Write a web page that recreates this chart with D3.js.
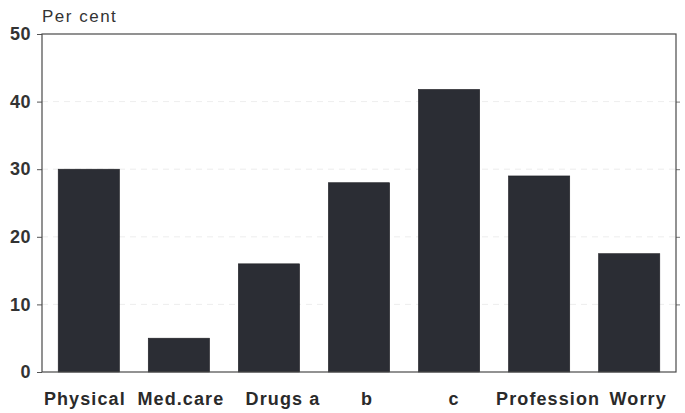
<!DOCTYPE html>
<html lang="en">
<head>
<meta charset="UTF-8">
<title>Per cent bar chart</title>
<style>
  body { margin: 0; background: #fff; }
  svg { display: block; }
  .tick-label { font-family: 'Liberation Sans', Arial, sans-serif; font-weight: bold; font-size: 18px; fill: #333; letter-spacing: 0.5px; }
  .cat-label { font-family: 'Liberation Sans', Arial, sans-serif; font-weight: bold; font-size: 18px; fill: #2a2a2a; letter-spacing: 1.1px; }
  .unit { font-family: 'Liberation Sans', Arial, sans-serif; font-size: 17px; fill: #333; letter-spacing: 1.5px; }
</style>
</head>
<body>
<svg id="chart" width="685" height="413"></svg>
<script src="https://d3js.org/d3.v7.min.js"></script>
<script>
// data
const categories = ["Physical", "Med.care", "Drugs a", "b", "c", "Profession", "Worry"];
const values = [30, 5, 16, 28, 41.8, 29, 17.5];
const yTicks = [0, 10, 20, 30, 40, 50];
// small nudges so labels sit where the original printed them
const labelShift = [-4, 2, 14, 8, 5, 9, 9];

const svg = d3.select("#chart");
const plotLeft = 42, plotRight = 676, plotTop = 34, plotBottom = 372;

const x = d3.scaleBand()
  .domain(categories)
  .range([plotLeft, plotRight])
  .paddingInner(0.32)
  .paddingOuter(0.18);

const y = d3.scaleLinear()
  .domain([0, 50])
  .range([plotBottom, plotTop]);

// faint gridlines
svg.append("g")
  .selectAll("line")
  .data(yTicks.filter(d => d > 0 && d < 50))
  .enter()
  .append("line")
  .attr("x1", plotLeft).attr("x2", plotRight)
  .attr("y1", d => y(d)).attr("y2", d => y(d))
  .attr("stroke", "#e8e8e8")
  .attr("stroke-dasharray", "6,5")
  .attr("stroke-width", 0.8);

// bars
svg.append("g")
  .selectAll("rect")
  .data(values)
  .enter()
  .append("rect")
  .attr("x", (d, i) => x(categories[i]))
  .attr("y", d => y(d))
  .attr("width", x.bandwidth())
  .attr("height", d => y(0) - y(d))
  .attr("fill", "#2b2d34")
  .attr("stroke", "#1e1f24")
  .attr("stroke-width", 0.6);

// left axis
const yAxis = svg.append("g")
  .attr("transform", `translate(${plotLeft},0)`)
  .call(d3.axisLeft(y).tickValues(yTicks).tickSize(5).tickPadding(6));
yAxis.select(".domain").remove();
yAxis.selectAll("line").attr("stroke", "#555");
yAxis.selectAll("text").attr("class", "tick-label").attr("fill", null).attr("font-size", null).attr("font-family", null);

// right side ticks
const yAxisR = svg.append("g")
  .attr("transform", `translate(${plotRight},0)`)
  .call(d3.axisRight(y).tickValues(yTicks.filter(d => d > 0 && d < 50)).tickSize(4).tickFormat(""));
yAxisR.select(".domain").remove();
yAxisR.selectAll("line").attr("stroke", "#777");

// frame
svg.append("rect")
  .attr("x", plotLeft).attr("y", plotTop)
  .attr("width", plotRight - plotLeft).attr("height", plotBottom - plotTop)
  .attr("fill", "none")
  .attr("stroke", "#4a4a4a")
  .attr("stroke-width", 1.2);

// category labels
svg.append("g")
  .selectAll("text")
  .data(categories)
  .enter()
  .append("text")
  .attr("class", "cat-label")
  .attr("x", (d, i) => x(d) + x.bandwidth() / 2 + labelShift[i])
  .attr("y", 405)
  .attr("text-anchor", "middle")
  .text(d => d);

// unit label
svg.append("text")
  .attr("class", "unit")
  .attr("x", plotLeft)
  .attr("y", 22)
  .text("Per cent");
</script>
</body>
</html>
